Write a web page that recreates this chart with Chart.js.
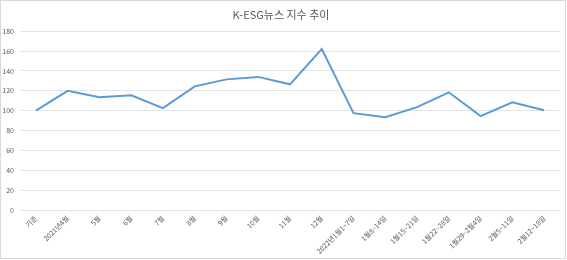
<!DOCTYPE html>
<html>
<head>
<meta charset="utf-8">
<script src="https://cdn.jsdelivr.net/npm/chart.js@4.4.1/dist/chart.umd.min.js"></script>
<style>
  body { margin: 0; background: #fff; }
  #frame { position: absolute; left: 0; top: 0; width: 564px; height: 257px; border: 1px solid #d9d9d9; background: #fff; }
  #wrap { position: absolute; left: 0; top: 0; width: 567px; height: 258px; }
</style>
</head>
<body>
<div id="frame"></div>
<div id="wrap"><canvas id="myChart"></canvas></div>
<script>
/*----data----*/
const labels = ["기준","2021년4월","5월","6월","7월","8월","9월","10월","11월","12월",
  "2022년1월1~7일","1월8~14일","1월15~21일","1월22~28일","1월29~2월4일","2월5~11일","2월12~18일"];
const esgIndex = [100,120,113.5,115.5,102.5,124.5,131.5,134,126.5,162,97.5,93.5,103.5,118.5,94.5,108.5,100.5];
const yTicks = [0,20,40,60,80,100,120,140,160,180];

const font = "'Noto Sans CJK KR', 'Noto Sans', sans-serif";

new Chart("myChart", {
  type: "line",
  data: {
    labels: labels,
    datasets: [{
      data: esgIndex,
      borderColor: "#5B9BD5",
      borderWidth: 2,
      pointRadius: 0,
      tension: 0,
      fill: false
    }]
  },
  options: {
    responsive: true,
    maintainAspectRatio: false,
    animation: false,
    layout: { padding: { left: 2, right: 7, top: 0, bottom: 0 } },
    plugins: {
      legend: { display: false },
      tooltip: { enabled: false },
      title: {
        display: true,
        text: "K-ESG뉴스 지수 추이",
        color: "#595959",
        font: { family: font, size: 11, weight: "normal" },
        padding: { top: 8, bottom: 10 }
      }
    },
    scales: {
      x: {
        offset: true,
        grid: { display: false, drawTicks: false },
        border: { display: false },
        ticks: {
          color: "#595959",
          font: { family: font, size: 7 },
          minRotation: 45,
          maxRotation: 45,
          autoSkip: false,
          padding: 4
        },
        afterFit: function(s) { s.height = 48; }
      },
      y: {
        min: 0,
        max: 180,
        afterBuildTicks: function(s) { s.ticks = yTicks.map(v => ({ value: v })); },
        grid: { color: "#e3e3e3", drawTicks: false },
        border: { display: false },
        ticks: {
          color: "#595959",
          font: { family: font, size: 7 },
          padding: 6
        },
        afterFit: function(s) { s.width = 18; }
      }
    }
  }
});
</script>
</body>
</html>
